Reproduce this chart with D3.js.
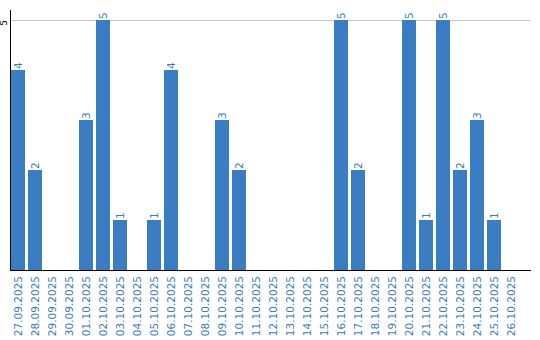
<!DOCTYPE html>
<html>
<head>
<meta charset="utf-8">
<script src="https://cdn.jsdelivr.net/npm/d3@7"></script>
<style>
html,body{margin:0;padding:0;background:#fff;}
svg{display:block;}
text{font-family:"DejaVu Sans",Verdana,sans-serif;}
</style>
</head>
<body>
<svg id="chart" width="540" height="340"></svg>
<script>
const dates = ["27.09.2025","28.09.2025","29.09.2025","30.09.2025","01.10.2025","02.10.2025","03.10.2025","04.10.2025","05.10.2025","06.10.2025","07.10.2025","08.10.2025","09.10.2025","10.10.2025","11.10.2025","12.10.2025","13.10.2025","14.10.2025","15.10.2025","16.10.2025","17.10.2025","18.10.2025","19.10.2025","20.10.2025","21.10.2025","22.10.2025","23.10.2025","24.10.2025","25.10.2025","26.10.2025"];
const counts = [4,2,0,0,3,5,1,0,1,4,0,0,3,2,0,0,0,0,0,5,2,0,0,5,1,5,2,3,1,0];
const yTicks = [5];

const barColor = "#3b7dc3";
const textColor = "#3a7cc2";

const svg = d3.select("#chart");
const mLeft = 10, mRight = 531, mTop = 10, mBottom = 270;

const x = d3.scaleBand().domain(dates)
  .range([mLeft + 1, mLeft + 1 + 17 * dates.length - 3])
  .paddingInner(3 / 17).paddingOuter(0);
const bw = x.bandwidth();

const y = d3.scaleLinear().domain([0, 5]).range([mBottom, 20]);

// grid
svg.append("g").selectAll("line").data(yTicks).join("line")
  .attr("x1", mLeft).attr("x2", mRight)
  .attr("y1", d => Math.round(y(d)) + 0.5).attr("y2", d => Math.round(y(d)) + 0.5)
  .attr("stroke", "#c8c8c8").attr("stroke-width", 1);

// y tick labels
svg.append("g").selectAll("text").data(yTicks).join("text")
  .attr("transform", d => `translate(${mLeft - 3},${y(d)}) rotate(-90)`)
  .attr("text-anchor", "end")
  .attr("font-size", "9px")
  .attr("fill", "#000")
  .text(d => d);

// bars
const data = dates.map((d, i) => ({date: d, value: counts[i]}));
svg.append("g").selectAll("rect").data(data.filter(d => d.value > 0)).join("rect")
  .attr("x", d => x(d.date))
  .attr("width", bw)
  .attr("y", d => y(d.value))
  .attr("height", d => y(0) - y(d.value))
  .attr("fill", barColor);

// value labels
svg.append("g").selectAll("text").data(data.filter(d => d.value > 0)).join("text")
  .attr("transform", d => `translate(${x(d.date) + bw / 2},${y(d.value) - 1}) rotate(-90)`)
  .attr("text-anchor", "start")
  .attr("dy", "0.35em")
  .attr("font-size", "10.5px")
  .attr("fill", textColor)
  .text(d => d.value);

// axes lines
svg.append("line").attr("x1", mLeft + 0.5).attr("x2", mLeft + 0.5).attr("y1", mTop).attr("y2", mBottom + 1)
  .attr("stroke", "#000").attr("stroke-width", 1);
svg.append("line").attr("x1", mLeft).attr("x2", mRight).attr("y1", mBottom + 0.5).attr("y2", mBottom + 0.5)
  .attr("stroke", "#000").attr("stroke-width", 1);

// x tick labels
svg.append("g").selectAll("text").data(dates).join("text")
  .attr("transform", d => `translate(${x(d) + bw / 2 + 0.5},${mBottom + 6}) rotate(-90)`)
  .attr("text-anchor", "end")
  .attr("dy", "0.35em")
  .attr("font-size", "10.5px")
  .attr("fill", textColor)
  .text(d => d);
</script>
</body>
</html>
